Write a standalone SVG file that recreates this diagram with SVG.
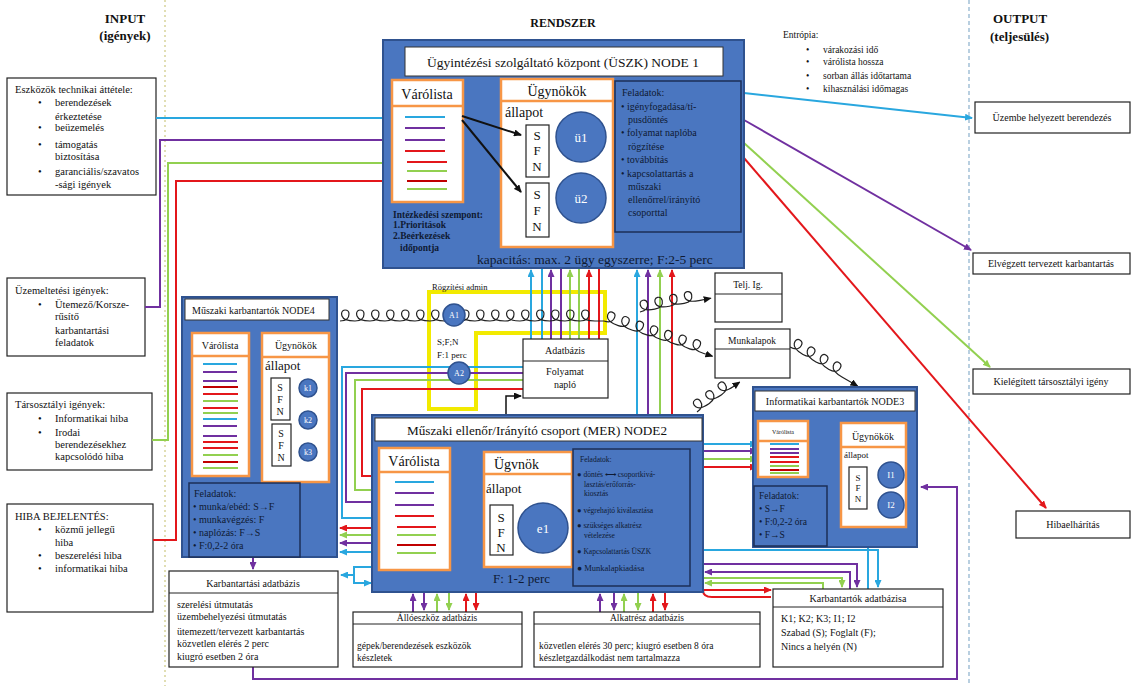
<svg xmlns="http://www.w3.org/2000/svg" width="1131" height="686" viewBox="0 0 1131 686">
<defs>
<style>
text{font-family:"Liberation Serif","Times New Roman",serif;fill:#111}
.node{fill:#4a76c0;stroke:#2f528f;stroke-width:2}
.wb{fill:#fff;stroke:#222;stroke-width:1.2}
.ob{fill:#fff;stroke:#f79646;stroke-width:2.5}
.od{stroke:#f79646;stroke-width:2.5}
.fb{fill:#4a76c0;stroke:#1c2f57;stroke-width:1.5}
.cir{fill:#4a76c0;stroke:#2f528f;stroke-width:1.5}
.ct{fill:#fff;text-anchor:middle}
.dk{fill:#0f1a33}
.mid{text-anchor:middle}
.ln{fill:none;stroke-width:2}
.C{stroke:#29a7df}.P{stroke:#7030a0}.G{stroke:#92d050}.R{stroke:#e3171b}.DR{stroke:#c00000}
.cur{fill:none;stroke:#222;stroke-width:1.2}
</style>
<marker id="aC" markerWidth="8" markerHeight="7" refX="7" refY="3.5" orient="auto" markerUnits="userSpaceOnUse"><path d="M0,0 L8,3.5 L0,7z" fill="#29a7df"/></marker>
<marker id="aP" markerWidth="8" markerHeight="7" refX="7" refY="3.5" orient="auto" markerUnits="userSpaceOnUse"><path d="M0,0 L8,3.5 L0,7z" fill="#7030a0"/></marker>
<marker id="aG" markerWidth="8" markerHeight="7" refX="7" refY="3.5" orient="auto" markerUnits="userSpaceOnUse"><path d="M0,0 L8,3.5 L0,7z" fill="#92d050"/></marker>
<marker id="aR" markerWidth="8" markerHeight="7" refX="7" refY="3.5" orient="auto" markerUnits="userSpaceOnUse"><path d="M0,0 L8,3.5 L0,7z" fill="#e3171b"/></marker>
<marker id="aK" markerWidth="8" markerHeight="7" refX="7" refY="3.5" orient="auto" markerUnits="userSpaceOnUse"><path d="M0,0 L8,3.5 L0,7z" fill="#111"/></marker>
</defs>
<rect width="1131" height="686" fill="#fff"/>

<!-- lanes -->
<line x1="165" y1="0" x2="165" y2="686" stroke="#d8d39a" stroke-width="1.5" stroke-dasharray="2,3"/>
<line x1="969" y1="0" x2="969" y2="686" stroke="#8ab0cc" stroke-width="1.2" stroke-dasharray="4,3"/>
<text x="125" y="23" font-size="13" font-weight="bold" class="mid">INPUT</text>
<text x="125" y="40" font-size="13" font-weight="bold" class="mid">(igények)</text>
<text x="563" y="27" font-size="12" font-weight="bold" class="mid">RENDSZER</text>
<text x="993" y="23" font-size="13" font-weight="bold">OUTPUT</text>
<text x="990" y="41" font-size="13" font-weight="bold">(teljesülés)</text>

<!-- entropy -->
<g id="entropia" font-size="9.5">
<text x="783" y="38">Entrópia:</text>
<text x="806" y="53">•</text><text x="823" y="53">várakozási idő</text>
<text x="806" y="65">•</text><text x="823" y="65">várólista hossza</text>
<text x="806" y="79">•</text><text x="823" y="79">sorban állás időtartama</text>
<text x="806" y="92">•</text><text x="823" y="92">kihasználási időmagas</text>
</g>

<!-- input boxes -->
<g id="in-eszkozok" font-size="10.5">
<rect x="7" y="78" width="149" height="117" class="wb"/>
<text x="15" y="93">Eszközök technikai áttétele:</text>
<text x="38" y="106">•</text><text x="55" y="106">berendezések</text>
<text x="55" y="120">érkeztetése</text>
<text x="38" y="131">•</text><text x="55" y="131">beüzemelés</text>
<text x="38" y="148">•</text><text x="55" y="148">támogatás</text>
<text x="55" y="160">biztosítása</text>
<text x="38" y="175">•</text><text x="55" y="175">garanciális/szavatos</text>
<text x="55" y="188">-sági igények</text>
</g>
<g id="in-uzem" font-size="10.5">
<rect x="7" y="278" width="138" height="78" class="wb"/>
<text x="15" y="294">Üzemeltetési igények:</text>
<text x="38" y="308">•</text><text x="55" y="308">Ütemező/Korsze-</text>
<text x="55" y="320">rűsítő</text>
<text x="55" y="334">karbantartási</text>
<text x="55" y="346">feladatok</text>
</g>
<g id="in-tars" font-size="10.5">
<rect x="7" y="393" width="145" height="77" class="wb"/>
<text x="15" y="408">Társosztályi igények:</text>
<text x="38" y="422">•</text><text x="55" y="422">Informatikai hiba</text>
<text x="38" y="436">•</text><text x="55" y="436">Irodai</text>
<text x="55" y="448">berendezésekhez</text>
<text x="55" y="460">kapcsolódó hiba</text>
</g>
<g id="in-hiba" font-size="10.5">
<rect x="7" y="504" width="146" height="108" class="wb"/>
<text x="15" y="520">HIBA BEJELENTÉS:</text>
<text x="38" y="533">•</text><text x="55" y="533">közmű jellegű</text>
<text x="55" y="546">hiba</text>
<text x="38" y="559">•</text><text x="55" y="559">beszerelési hiba</text>
<text x="38" y="572">•</text><text x="55" y="572">informatikai hiba</text>
</g>

<!-- output boxes -->
<g id="out1" font-size="10"><rect x="975" y="102" width="155" height="31" class="wb"/><text x="1052" y="121" class="mid">Üzembe helyezett berendezés</text></g>
<g id="out2" font-size="10"><rect x="973" y="253" width="157" height="21" class="wb"/><text x="1051" y="267" class="mid">Elvégzett tervezett karbantartás</text></g>
<g id="out3" font-size="10"><rect x="973" y="369" width="157" height="25" class="wb"/><text x="1051" y="385" class="mid">Kielégített társosztályi igény</text></g>
<g id="out4" font-size="10"><rect x="1016" y="511" width="114" height="27" class="wb"/><text x="1073" y="528" class="mid">Hibaelhárítás</text></g>

<!-- yellow admin -->
<g id="admin">
<polygon points="429,292 605,292 605,333 476,333 476,409 429,409" fill="none" stroke="#f2ea00" stroke-width="4"/>
<text x="432" y="290" font-size="8.5">Rögzítési admin</text>
<text x="437" y="345" font-size="9">S;F;N</text>
<text x="437" y="358" font-size="9">F:1 perc</text>
</g>

<!-- connectors -->
<g id="connectors">
<!-- inputs -->
<path class="ln C" d="M156,118 H390" marker-end="url(#aC)"/>
<path class="ln P" d="M145,307 H160 V140 H390" marker-end="url(#aP)"/>
<path class="ln G" d="M152,440 H168 V163 H390" marker-end="url(#aG)"/>
<path class="ln R" d="M153,540 H176 V181 H390" marker-end="url(#aR)"/>
<!-- outputs -->
<path class="ln C" d="M744,93 L972,118" marker-end="url(#aC)"/>
<path class="ln P" d="M744,120 L971,250" marker-end="url(#aP)"/>
<path class="ln G" d="M744,143 L990,367" marker-end="url(#aG)"/>
<path class="ln R" d="M744,158 L1046,508" marker-end="url(#aR)"/>
<!-- NODE1 <-> Adatbazis -->
<path class="ln C" d="M531,339 V270" marker-end="url(#aC)"/>
<path class="ln C" d="M542,268 V339"/>
<path class="ln P" d="M551,339 V270" marker-end="url(#aP)"/>
<path class="ln P" d="M561,268 V339"/>
<path class="ln G" d="M570,339 V270" marker-end="url(#aG)"/>
<path class="ln G" d="M579,268 V339"/>
<path class="ln R" d="M589,339 V270" marker-end="url(#aR)"/>
<path class="ln R" d="M599,268 V339"/>
<!-- NODE2 -> NODE1 -->
<path class="ln C" d="M637,415 V270" marker-end="url(#aC)"/>
<path class="ln P" d="M648,415 V270" marker-end="url(#aP)"/>
<path class="ln G" d="M660,415 V270" marker-end="url(#aG)"/>
<path class="ln R" d="M672,415 V270" marker-end="url(#aR)"/>
<!-- Adatbazis -> NODE2 varolista -->
<path class="ln C" d="M523,367 H342 V518 H378" marker-end="url(#aC)"/>
<path class="ln P" d="M523,373 H346 V502 H378" marker-end="url(#aP)"/>
<path class="ln G" d="M523,380 H355 V490 H378" marker-end="url(#aG)"/>
<path class="ln R" d="M523,389 H362 V476 H378" marker-end="url(#aR)"/>
<!-- NODE2 -> NODE4 -->
<path class="ln R" d="M372,528 H340" marker-end="url(#aR)"/>
<path class="ln G" d="M372,535 H340" marker-end="url(#aG)"/>
<path class="ln P" d="M372,543 H340" marker-end="url(#aP)"/>
<path class="ln C" d="M372,552 H340" marker-end="url(#aC)"/>
<path class="ln C" d="M372,567 H354 V575 H341" marker-end="url(#aC)"/>
<path class="ln C" d="M354,575 V583 H371" marker-end="url(#aC)"/>
<!-- NODE4 -> Karbantartasi -->
<path class="ln P" d="M253,558 V569" marker-end="url(#aP)"/>
<path class="ln P" d="M253,667 V679 H957 V487 H921" marker-end="url(#aP)"/>
<!-- NODE2 -> NODE3 -->
<path class="ln C" d="M703,444 H757" marker-end="url(#aC)"/>
<path class="ln P" d="M703,451 H757" marker-end="url(#aP)"/>
<path class="ln G" d="M703,459 H757" marker-end="url(#aG)"/>
<path class="ln R" d="M703,467 H757" marker-end="url(#aR)"/>
<!-- to Karbantartok adatbazisa -->
<path class="ln C" d="M703,550 H878 V587" marker-end="url(#aC)"/>
<path class="ln C" d="M868,589 V547"/>
<path class="ln P" d="M703,564 H857 V587" marker-end="url(#aP)"/>
<path class="ln P" d="M850,589 V572 H705" marker-end="url(#aP)"/>
<path class="ln G" d="M703,578 H842 V587" marker-end="url(#aG)"/>
<path class="ln G" d="M823,589 V583 H705" marker-end="url(#aG)"/>
<path class="ln R" d="M703,590 H771" marker-end="url(#aR)"/>
<path class="ln R" d="M771,597 H712 Q703,597 703,590"/>
<!-- NODE2 <-> Alloeszkoz -->
<path class="ln P" d="M413,612 V594" marker-end="url(#aP)"/>
<path class="ln P" d="M424,592 V610" marker-end="url(#aP)"/>
<path class="ln G" d="M437,612 V594" marker-end="url(#aG)"/>
<path class="ln G" d="M449,592 V610" marker-end="url(#aG)"/>
<path class="ln R" d="M466,612 V594" marker-end="url(#aR)"/>
<path class="ln R" d="M476,592 V610" marker-end="url(#aR)"/>
<!-- NODE2 <-> Alkatresz -->
<path class="ln P" d="M600,612 V594" marker-end="url(#aP)"/>
<path class="ln P" d="M614,592 V610" marker-end="url(#aP)"/>
<path class="ln G" d="M624,612 V594" marker-end="url(#aG)"/>
<path class="ln G" d="M638,592 V610" marker-end="url(#aG)"/>
<path class="ln R" d="M653,612 V594" marker-end="url(#aR)"/>
<path class="ln R" d="M665,592 V610" marker-end="url(#aR)"/>
<!-- black arrow -->
<path d="M506,415 V396 H521" fill="none" stroke="#111" stroke-width="1.5" marker-end="url(#aK)"/>
<!-- curly lines -->
<path class="cur" transform="translate(340,321)" d="M0,0 c6,0 9,-3 9,-7 c0,-3 -2,-4 -4,-4 c-3,0 -4,3 -3,6 c1,3 6,5 13,5 c6,0 9,-3 9,-7 c0,-3 -2,-4 -4,-4 c-3,0 -4,3 -3,6 c1,3 6,5 13,5 c6,0 9,-3 9,-7 c0,-3 -2,-4 -4,-4 c-3,0 -4,3 -3,6 c1,3 6,5 13,5 c6,0 9,-3 9,-7 c0,-3 -2,-4 -4,-4 c-3,0 -4,3 -3,6 c1,3 6,5 13,5 c6,0 9,-3 9,-7 c0,-3 -2,-4 -4,-4 c-3,0 -4,3 -3,6 c1,3 6,5 13,5 c6,0 9,-3 9,-7 c0,-3 -2,-4 -4,-4 c-3,0 -4,3 -3,6 c1,3 6,5 13,5 c6,0 9,-3 9,-7 c0,-3 -2,-4 -4,-4 c-3,0 -4,3 -3,6 c1,3 6,5 13,5 c6,0 9,-3 9,-7 c0,-3 -2,-4 -4,-4 c-3,0 -4,3 -3,6 c1,3 6,5 13,5 c6,0 9,-3 9,-7 c0,-3 -2,-4 -4,-4 c-3,0 -4,3 -3,6 c1,3 6,5 13,5 c6,0 9,-3 9,-7 c0,-3 -2,-4 -4,-4 c-3,0 -4,3 -3,6 c1,3 6,5 13,5 c6,0 9,-3 9,-7 c0,-3 -2,-4 -4,-4 c-3,0 -4,3 -3,6 c1,3 6,5 13,5 c6,0 9,-3 9,-7 c0,-3 -2,-4 -4,-4 c-3,0 -4,3 -3,6 c1,3 6,5 13,5 c6,0 9,-3 9,-7 c0,-3 -2,-4 -4,-4 c-3,0 -4,3 -3,6 c1,3 6,5 13,5 c6,0 9,-3 9,-7 c0,-3 -2,-4 -4,-4 c-3,0 -4,3 -3,6 c1,3 6,5 13,5 c6,0 9,-3 9,-7 c0,-3 -2,-4 -4,-4 c-3,0 -4,3 -3,6 c1,3 6,5 13,5 c6,0 9,-3 9,-7 c0,-3 -2,-4 -4,-4 c-3,0 -4,3 -3,6 c1,3 6,5 13,5 c6,0 9,-3 9,-7 c0,-3 -2,-4 -4,-4 c-3,0 -4,3 -3,6 c1,3 6,5 13,5 l9,0"/>
<path class="cur" transform="translate(604,321) rotate(18)" marker-end="url(#aK)" d="M0,0 c6,0 9,-3 9,-7 c0,-3 -2,-4 -4,-4 c-3,0 -4,3 -3,6 c1,3 6,5 13,5 c6,0 9,-3 9,-7 c0,-3 -2,-4 -4,-4 c-3,0 -4,3 -3,6 c1,3 6,5 13,5 c6,0 9,-3 9,-7 c0,-3 -2,-4 -4,-4 c-3,0 -4,3 -3,6 c1,3 6,5 13,5 c6,0 9,-3 9,-7 c0,-3 -2,-4 -4,-4 c-3,0 -4,3 -3,6 c1,3 6,5 13,5 c6,0 9,-3 9,-7 c0,-3 -2,-4 -4,-4 c-3,0 -4,3 -3,6 c1,3 6,5 13,5 c6,0 9,-3 9,-7 c0,-3 -2,-4 -4,-4 c-3,0 -4,3 -3,6 c1,3 6,5 13,5 c6,0 9,-3 9,-7 c0,-3 -2,-4 -4,-4 c-3,0 -4,3 -3,6 c1,3 6,5 13,5 l9,0"/>
<path class="cur" transform="translate(640,312) rotate(-11)" marker-end="url(#aK)" d="M0,0 c6,0 9,-3 9,-7 c0,-3 -2,-4 -4,-4 c-3,0 -4,3 -3,6 c1,3 6,5 13,5 c6,0 9,-3 9,-7 c0,-3 -2,-4 -4,-4 c-3,0 -4,3 -3,6 c1,3 6,5 13,5 c6,0 9,-3 9,-7 c0,-3 -2,-4 -4,-4 c-3,0 -4,3 -3,6 c1,3 6,5 13,5 c6,0 9,-3 9,-7 c0,-3 -2,-4 -4,-4 c-3,0 -4,3 -3,6 c1,3 6,5 13,5 l12,0"/>
<path class="cur" transform="translate(697,412) rotate(-35)" marker-end="url(#aK)" d="M0,0 c6,0 9,-3 9,-7 c0,-3 -2,-4 -4,-4 c-3,0 -4,3 -3,6 c1,3 6,5 13,5 c6,0 9,-3 9,-7 c0,-3 -2,-4 -4,-4 c-3,0 -4,3 -3,6 c1,3 6,5 13,5 c6,0 9,-3 9,-7 c0,-3 -2,-4 -4,-4 c-3,0 -4,3 -3,6 c1,3 6,5 13,5 l7,0"/>
<path class="cur" transform="translate(790,347) rotate(30)" marker-end="url(#aK)" d="M0,0 c6,0 9,-3 9,-7 c0,-3 -2,-4 -4,-4 c-3,0 -4,3 -3,6 c1,3 6,5 13,5 c6,0 9,-3 9,-7 c0,-3 -2,-4 -4,-4 c-3,0 -4,3 -3,6 c1,3 6,5 13,5 c6,0 9,-3 9,-7 c0,-3 -2,-4 -4,-4 c-3,0 -4,3 -3,6 c1,3 6,5 13,5 c6,0 9,-3 9,-7 c0,-3 -2,-4 -4,-4 c-3,0 -4,3 -3,6 c1,3 6,5 13,5 l18,0"/>
</g>

<!-- admin circles -->
<g id="A1"><circle cx="454" cy="315" r="11" class="cir"/><text x="454" y="318" font-size="8" class="ct">A1</text></g>
<g id="A2"><circle cx="459" cy="373" r="11" class="cir"/><text x="459" y="376" font-size="8" class="ct">A2</text></g>

<!-- NODE1 -->
<g id="node1">
<rect x="383" y="40" width="361" height="228" class="node"/>
<rect x="405" y="47" width="318" height="29" fill="#fff" stroke="#333" stroke-width="1"/>
<text x="563" y="67" font-size="13.5" class="mid">Ügyintézési szolgáltató központ (ÜSZK) NODE 1</text>
<rect x="392" y="80" width="71" height="122" class="ob"/>
<line x1="392" y1="106" x2="463" y2="106" class="od"/>
<text x="427" y="99" font-size="14" class="mid">Várólista</text>
<g stroke-width="2">
<line x1="405" y1="117" x2="445" y2="117" class="C"/>
<line x1="405" y1="128" x2="445" y2="128" class="P"/>
<line x1="405" y1="140" x2="445" y2="140" class="P"/>
<line x1="405" y1="151" x2="445" y2="151" class="R"/>
<line x1="407" y1="162" x2="447" y2="162" class="R"/>
<line x1="407" y1="171" x2="447" y2="171" class="G"/>
<line x1="407" y1="181" x2="447" y2="181" class="DR"/>
<line x1="407" y1="189" x2="447" y2="189" class="G"/>
</g>
<rect x="501" y="79" width="112" height="168" class="ob"/>
<line x1="501" y1="101" x2="613" y2="101" class="od"/>
<text x="557" y="96" font-size="14" class="mid">Ügynökök</text>
<text x="505" y="117" font-size="14">állapot</text>
<rect x="526" y="125" width="23" height="52" class="wb"/>
<text x="537" y="140" font-size="13" class="mid">S</text><text x="537" y="155" font-size="13" class="mid">F</text><text x="537" y="171" font-size="13" class="mid">N</text>
<rect x="526" y="183" width="23" height="54" class="wb"/>
<text x="537" y="199" font-size="13" class="mid">S</text><text x="537" y="215" font-size="13" class="mid">F</text><text x="537" y="231" font-size="13" class="mid">N</text>
<circle cx="581" cy="137" r="25" class="cir"/><text x="581" y="142" font-size="13" class="ct">ü1</text>
<circle cx="581" cy="198" r="25" class="cir"/><text x="581" y="203" font-size="13" class="ct">ü2</text>
<path d="M462,116 L521,135" stroke="#111" stroke-width="2" marker-end="url(#aK)"/>
<path d="M462,120 L521,192" stroke="#111" stroke-width="2" marker-end="url(#aK)"/>
<rect x="615" y="81" width="126" height="151" class="fb"/>
<g font-size="10" class="dk">
<text x="622" y="96" class="dk">Feladatok:</text>
<text x="621" y="110" class="dk">• igényfogadása/tí-</text>
<text x="628" y="123" class="dk">pusdöntés</text>
<text x="621" y="136" class="dk">• folyamat  naplóba</text>
<text x="628" y="150" class="dk">rögzítése</text>
<text x="621" y="163" class="dk">• továbbítás</text>
<text x="621" y="177" class="dk">• kapcsolattartás  a</text>
<text x="628" y="190" class="dk">műszaki</text>
<text x="628" y="203" class="dk">ellenőrrel/irányító</text>
<text x="628" y="216" class="dk">csoporttal</text>
</g>
<g font-size="9.5" font-weight="bold">
<text x="393" y="218" class="dk">Intézkedési szempont:</text>
<text x="393" y="228" class="dk">1.Prioritások</text>
<text x="393" y="239" class="dk">2.Beérkezések</text>
<text x="400" y="251" class="dk">időpontja</text>
</g>
<text x="477" y="264" font-size="13.5" class="dk">kapacitás: max. 2 ügy egyszerre; F:2-5 perc</text>
</g>

<!-- NODE4 -->
<g id="node4">
<rect x="182" y="297" width="155" height="260" class="node"/>
<rect x="185" y="299" width="144" height="21" fill="#fff" stroke="#333" stroke-width="1"/>
<text x="192" y="314" font-size="10">Műszaki karbantartók NODE4</text>
<rect x="192" y="333" width="57" height="143" class="ob"/>
<line x1="192" y1="356" x2="249" y2="356" class="od"/>
<text x="220" y="349" font-size="10" class="mid">Várólista</text>
<g stroke-width="2">
<line x1="203" y1="364" x2="237" y2="364" class="C"/>
<line x1="203" y1="372" x2="237" y2="372" class="P"/>
<line x1="203" y1="381" x2="237" y2="381" class="P"/>
<line x1="203" y1="387" x2="238" y2="387" class="DR"/>
<line x1="203" y1="394" x2="238" y2="394" class="R"/>
<line x1="203" y1="401" x2="238" y2="401" class="G"/>
<line x1="203" y1="408" x2="238" y2="408" class="R"/>
<line x1="203" y1="413" x2="238" y2="413" class="G"/>
<line x1="203" y1="419" x2="237" y2="419" class="C"/>
<line x1="203" y1="426" x2="237" y2="426" class="P"/>
<line x1="203" y1="436" x2="237" y2="436" class="P"/>
<line x1="203" y1="442" x2="238" y2="442" class="R"/>
<line x1="203" y1="448" x2="238" y2="448" class="R"/>
<line x1="203" y1="455" x2="238" y2="455" class="G"/>
<line x1="203" y1="462" x2="238" y2="462" class="DR"/>
<line x1="203" y1="468" x2="238" y2="468" class="G"/>
</g>
<rect x="262" y="333" width="67" height="149" class="ob"/>
<line x1="262" y1="357" x2="329" y2="357" class="od"/>
<text x="296" y="349" font-size="10" class="mid">Ügynökök</text>
<text x="265" y="370" font-size="13">állapot</text>
<rect x="271" y="378" width="19" height="42" class="wb"/>
<text x="280" y="391" font-size="10" class="mid">S</text><text x="280" y="403" font-size="10" class="mid">F</text><text x="280" y="415" font-size="10" class="mid">N</text>
<rect x="272" y="424" width="19" height="42" class="wb"/>
<text x="281" y="437" font-size="10" class="mid">S</text><text x="281" y="449" font-size="10" class="mid">F</text><text x="281" y="461" font-size="10" class="mid">N</text>
<circle cx="308" cy="388" r="9" class="cir"/><text x="308" y="391" font-size="8" class="ct">k1</text>
<circle cx="308" cy="420" r="9" class="cir"/><text x="308" y="423" font-size="8" class="ct">k2</text>
<circle cx="308" cy="452" r="9" class="cir"/><text x="308" y="455" font-size="8" class="ct">k3</text>
<rect x="189" y="483" width="111" height="74" class="fb"/>
<g font-size="10">
<text x="194" y="497" class="dk">Feladatok:</text>
<text x="193" y="510" class="dk">• munka/ebéd: S→F</text>
<text x="193" y="523" class="dk">• munkavégzés: F</text>
<text x="193" y="536" class="dk">• naplózás: F→S</text>
<text x="193" y="549" class="dk">• F:0,2-2 óra</text>
</g>
</g>

<!-- NODE2 -->
<g id="node2">
<rect x="372" y="415" width="331" height="177" class="node"/>
<rect x="375" y="418" width="327" height="23" fill="#fff" stroke="#333" stroke-width="1"/>
<text x="537" y="435" font-size="13.2" class="mid">Műszaki ellenőr/Irányító csoport (MER) NODE2</text>
<rect x="379" y="448" width="71" height="122" class="ob"/>
<line x1="379" y1="472" x2="450" y2="472" class="od"/>
<text x="414" y="466" font-size="14" class="mid">Várólista</text>
<g stroke-width="2">
<line x1="395" y1="482" x2="434" y2="482" class="C"/>
<line x1="395" y1="493" x2="434" y2="493" class="P"/>
<line x1="395" y1="505" x2="434" y2="505" class="P"/>
<line x1="395" y1="516" x2="434" y2="516" class="R"/>
<line x1="397" y1="527" x2="436" y2="527" class="R"/>
<line x1="397" y1="535" x2="436" y2="535" class="G"/>
<line x1="397" y1="545" x2="436" y2="545" class="DR"/>
<line x1="397" y1="553" x2="436" y2="553" class="G"/>
</g>
<rect x="484" y="452" width="88" height="115" class="ob"/>
<line x1="484" y1="474" x2="572" y2="474" class="od"/>
<text x="494" y="469" font-size="14">Ügvnök</text>
<text x="486" y="493" font-size="13">állapot</text>
<rect x="490" y="505" width="23" height="50" class="wb"/>
<text x="501" y="522" font-size="13" class="mid">S</text><text x="501" y="537" font-size="13" class="mid">F</text><text x="501" y="552" font-size="13" class="mid">N</text>
<circle cx="543" cy="528" r="25" class="cir"/><text x="543" y="533" font-size="13" class="ct">e1</text>
<text x="493" y="583" font-size="13" class="dk">F: 1-2 perc</text>
<rect x="573" y="449" width="117" height="137" class="fb"/>
<g font-size="7.5">
<text x="580" y="462" class="dk">Feladatok:</text>
<text x="577" y="477" class="dk">● döntés ⟷ csoportkivá-</text>
<text x="584" y="487" class="dk">lasztás/erőforrás-</text>
<text x="584" y="496" class="dk">kiosztás</text>
<text x="577" y="513" class="dk">● végrehajtó kiválasztása</text>
<text x="577" y="528" class="dk">● szükséges alkatrész</text>
<text x="584" y="538" class="dk">vételezése</text>
<text x="577" y="554" class="dk">● Kapcsolattartás ÜSZK</text>
<text x="577" y="571" font-size="8.5" class="dk">● Munkalapkiadása</text>
</g>
</g>

<!-- NODE3 -->
<g id="node3">
<rect x="753" y="387" width="164" height="160" class="node"/>
<rect x="755" y="391" width="160" height="20" fill="#fff" stroke="#333" stroke-width="1"/>
<text x="835" y="405" font-size="10" class="mid">Informatikai karbantartók NODE3</text>
<rect x="758" y="421" width="50" height="56" class="ob"/>
<line x1="758" y1="441" x2="808" y2="441" class="od"/>
<text x="783" y="434" font-size="6" class="mid">Várólista</text>
<g stroke-width="2">
<line x1="770" y1="444" x2="799" y2="444" class="C"/>
<line x1="770" y1="449" x2="799" y2="449" class="P"/>
<line x1="770" y1="453" x2="799" y2="453" class="P"/>
<line x1="770" y1="457" x2="799" y2="457" class="R"/>
<line x1="770" y1="462" x2="799" y2="462" class="R"/>
<line x1="770" y1="466" x2="799" y2="466" class="G"/>
<line x1="770" y1="470" x2="799" y2="470" class="DR"/>
<line x1="770" y1="473" x2="799" y2="473" class="G"/>
</g>
<rect x="841" y="423" width="65" height="104" class="ob"/>
<line x1="841" y1="447" x2="906" y2="447" class="od"/>
<text x="873" y="440" font-size="10" class="mid">Ügynökök</text>
<text x="844" y="458" font-size="9">állapot</text>
<rect x="849" y="467" width="18" height="42" class="wb"/>
<text x="858" y="481" font-size="9" class="mid">S</text><text x="858" y="491" font-size="9" class="mid">F</text><text x="858" y="502" font-size="9" class="mid">N</text>
<circle cx="891" cy="475" r="13" class="cir"/><text x="891" y="478" font-size="9" class="ct">I1</text>
<circle cx="891" cy="505" r="13" class="cir"/><text x="891" y="508" font-size="9" class="ct">I2</text>
<rect x="754" y="486" width="73" height="60" class="fb"/>
<g font-size="9.5">
<text x="759" y="499" class="dk">Feladatok:</text>
<text x="759" y="512" class="dk">• S→F</text>
<text x="759" y="525" class="dk">• F:0,2-2 óra</text>
<text x="759" y="538" class="dk">• F→S</text>
</g>
</g>

<!-- databases -->
<g id="adatbazis" font-size="10">
<rect x="523" y="339" width="85" height="59" class="wb"/>
<line x1="523" y1="361" x2="608" y2="361" stroke="#222"/>
<text x="565" y="354" class="mid">Adatbázis</text>
<text x="565" y="375" class="mid">Folyamat</text>
<text x="565" y="388" class="mid">napló</text>
</g>
<g id="telj" font-size="9.5">
<rect x="715" y="273" width="67" height="49" class="wb"/>
<line x1="715" y1="294" x2="782" y2="294" stroke="#222"/>
<text x="748" y="288" class="mid">Telj. Ig.</text>
</g>
<g id="munkalapok" font-size="9.5">
<rect x="715" y="329" width="75" height="49" class="wb"/>
<line x1="715" y1="349" x2="790" y2="349" stroke="#222"/>
<text x="752" y="344" class="mid">Munkalapok</text>
</g>
<g id="karb-db" font-size="10">
<rect x="169" y="571" width="169" height="96" class="wb"/>
<line x1="169" y1="593" x2="338" y2="593" stroke="#222"/>
<text x="253" y="587" class="mid">Karbantartási  adatbázis</text>
<text x="177" y="608">szerelési  útmutatás</text>
<text x="177" y="620">üzembehelyezési  útmutatás</text>
<text x="177" y="635">ütemezett/tervezett  karbantartás</text>
<text x="177" y="647">közvetlen  elérés  2 perc</text>
<text x="177" y="660">kiugró  esetben  2 óra</text>
</g>
<g id="allo-db" font-size="9.5">
<rect x="353" y="612" width="169" height="55" class="wb"/>
<line x1="353" y1="624" x2="522" y2="624" stroke="#222"/>
<text x="437" y="621" class="mid">Állóeszköz  adatbázis</text>
<text x="357" y="649">gépek/berendezések  eszközök</text>
<text x="357" y="661">készletek</text>
</g>
<g id="alkatresz-db" font-size="9.5">
<rect x="534" y="612" width="226" height="55" class="wb"/>
<line x1="534" y1="624" x2="760" y2="624" stroke="#222"/>
<text x="647" y="621" class="mid">Alkatrész  adatbázis</text>
<text x="539" y="649">közvetlen  elérés  30 perc;  kiugró  esetben  8 óra</text>
<text x="539" y="661">készletgazdálkodást  nem tartalmazza</text>
</g>
<g id="karbantartok-db" font-size="10">
<rect x="773" y="589" width="170" height="78" class="wb"/>
<line x1="773" y1="607" x2="943" y2="607" stroke="#222"/>
<text x="858" y="602" class="mid">Karbantartók  adatbázisa</text>
<text x="781" y="622">K1; K2; K3; I1; I2</text>
<text x="781" y="636">Szabad  (S); Foglalt (F);</text>
<text x="781" y="650">Nincs  a helyén  (N)</text>
</g>
</svg>
